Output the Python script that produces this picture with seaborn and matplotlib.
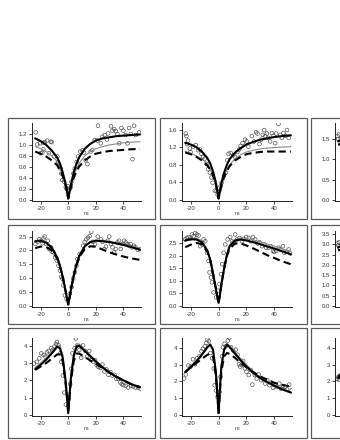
import matplotlib
matplotlib.use("Agg")
import matplotlib.pyplot as plt
import seaborn as sns
from matplotlib.patches import Rectangle

# ---------------- data ----------------
ns_grid = [-24, -20, -16, -12, -8, -6, -4, -2, -1, 0, 1, 2, 4, 6, 8, 12, 16, 20, 25, 30, 35, 40, 45, 52]

# panel row1 col1
p11_sx = [-23.6, -22.4, -20.5, -18, -16.9, -15.2, -12.7, -12, -20, -18.8, -18, -14, -10.3, -7.9, -7.4, -6.7,
          -5.5, -5, -4.3, -3, -1.8, -1.1, -0.1, 0.6, 1.8, 2.3, 3.7, 4.7, 6.1, 7.1, 8.6, 10.3, 11.5, 12.7, 13.9,
          16.3, 17.5, 19.2, 21.2, 21.6, 23.6, 24.8, 26.5, 28, 29, 31, 32, 33.3, 34.5, 35.7, 37, 38.6, 40, 41.7,
          43, 44.2, 45.4, 46.6, 47.8, 49, 51.4]
p11_sy = [1.23, 1.01, 1.03, 1.04, 1.05, 1.08, 1.06, 1.05, 0.85, 0.86, 0.92, 0.85, 0.79, 0.79, 0.69, 0.60,
          0.57, 0.48, 0.36, 0.33, 0.23, 0.20, 0.25, 0.18, 0.23, 0.33, 0.48, 0.57, 0.69, 0.79, 0.88, 0.90, 0.86,
          0.72, 0.65, 0.88, 0.91, 1.09, 1.08, 1.35, 1.03, 1.15, 1.18, 1.10, 1.21, 1.34, 1.26, 1.29, 1.25, 1.20,
          1.03, 1.31, 1.26, 1.18, 1.03, 1.31, 1.20, 0.74, 1.35, 1.18, 1.23]
p11_fit = [1.12, 1.07, 1.00, 0.90, 0.77, 0.66, 0.50, 0.30, 0.17, 0.02, 0.15, 0.28, 0.50, 0.66, 0.78, 0.93,
           1.02, 1.08, 1.12, 1.14, 1.16, 1.17, 1.18, 1.19]
p11_alt = [0.97, 0.93, 0.88, 0.80, 0.70, 0.60, 0.46, 0.28, 0.16, 0.03, 0.14, 0.26, 0.44, 0.57, 0.67, 0.80,
           0.88, 0.93, 0.97, 1.00, 1.02, 1.04, 1.05, 1.06]
p11_ref = [0.88, 0.84, 0.79, 0.72, 0.63, 0.55, 0.43, 0.27, 0.15, 0.03, 0.13, 0.24, 0.40, 0.52, 0.61, 0.72,
           0.79, 0.84, 0.87, 0.89, 0.90, 0.91, 0.92, 0.93]

# panel row1 col2
p12_sx = [-23.6, -23.1, -21.9, -22.7, -20.7, -20.2, -18.3, -16.4, -14.7, -13.5, -12.3, -11.1, -9.9, -8.7,
          -7.5, -6.3, -5.1, -4.3, -2.7, -1.4, -0.7, 0.5, 1.4, 2.2, 3.9, 5.3, 6.3, 7.2, 8.7, 10.6, 11.8, 13.5,
          14.9, 15.9, 17.3, 19, 20.2, 21.4, 23.9, 25.5, 27, 28, 29.4, 30.6, 31.8, 32.8, 33.5, 34.7, 35.9, 37.1,
          38.3, 39.5, 40.7, 41.4, 43.1, 44.3, 45.5, 46.7, 48, 49.2, 50.4]
p12_sy = [1.51, 1.45, 1.35, 1.27, 1.17, 1.09, 1.21, 1.25, 1.13, 1.15, 1.05, 0.98, 0.94, 0.82, 0.70, 0.62,
          0.51, 0.39, 0.21, 0.20, 0.12, 0.20, 0.31, 0.39, 0.55, 0.62, 0.90, 1.05, 1.07, 1.02, 0.98, 1.09, 1.15,
          1.23, 1.29, 1.37, 1.33, 1.21, 1.45, 1.33, 1.54, 1.51, 1.27, 1.37, 1.48, 1.59, 1.45, 1.51, 1.41, 1.33,
          1.52, 1.46, 1.29, 1.51, 1.73, 1.48, 1.41, 1.52, 1.46, 1.59, 1.41]
p12_fit = [1.30, 1.26, 1.20, 1.10, 0.95, 0.83, 0.65, 0.40, 0.22, 0.03, 0.20, 0.38, 0.62, 0.80, 0.93, 1.08,
           1.18, 1.26, 1.32, 1.37, 1.40, 1.43, 1.45, 1.47]
p12_alt = [1.10, 1.06, 1.00, 0.93, 0.82, 0.72, 0.57, 0.36, 0.20, 0.03, 0.18, 0.33, 0.54, 0.69, 0.80, 0.94,
           1.03, 1.09, 1.13, 1.16, 1.18, 1.19, 1.20, 1.21]
p12_ref = [1.08, 1.04, 0.98, 0.90, 0.78, 0.69, 0.55, 0.35, 0.20, 0.03, 0.18, 0.32, 0.52, 0.66, 0.77, 0.90,
           0.98, 1.04, 1.07, 1.09, 1.10, 1.10, 1.10, 1.10]

# panel row1 col3 (mostly outside the picture)
p13_sx = [-24.5, -24, -23.5, -23, -22, -21, -20, -17, -14, -10, -6, -3, 0, 3, 6, 10, 15, 20, 30, 40, 50]
p13_sy = [1.58, 1.50, 1.62, 1.44, 1.52, 1.40, 1.36, 1.30, 1.20, 1.05, 0.80, 0.45, 0.10, 0.48, 0.85, 1.10,
          1.30, 1.45, 1.55, 1.62, 1.66]
p13_fit = [1.46, 1.42, 1.36, 1.25, 1.08, 0.95, 0.75, 0.46, 0.26, 0.03, 0.24, 0.44, 0.72, 0.92, 1.06, 1.24,
           1.36, 1.44, 1.50, 1.54, 1.57, 1.59, 1.60, 1.62]
p13_alt = [1.36, 1.32, 1.26, 1.16, 1.01, 0.89, 0.70, 0.43, 0.24, 0.03, 0.22, 0.41, 0.67, 0.85, 0.98, 1.14,
           1.24, 1.30, 1.35, 1.38, 1.40, 1.41, 1.42, 1.43]
p13_ref = [1.38, 1.33, 1.26, 1.15, 0.99, 0.87, 0.68, 0.42, 0.23, 0.03, 0.21, 0.39, 0.63, 0.80, 0.92, 1.06,
           1.14, 1.19, 1.22, 1.24, 1.25, 1.25, 1.25, 1.25]

# panel row2 col1
p21_sx = [-23.8, -22.1, -21, -19.5, -17.9, -17.1, -18.6, -16, -14.8, -13.8, -12.4, -11.9, -10.7, -9.5, -8.3,
          -7.1, -6, -5.2, -4.3, -3.6, -2.4, -1.2, 1.2, 2.4, 3.6, 4.8, 6, 6.7, 8.3, 10.7, 11.9, 13.1, 14.3, 15.5,
          16.7, 17.9, 19.5, 21.4, 23.8, 25, 26.2, 27.4, 28.6, 29.8, 31, 32.1, 33.3, 34.5, 35.7, 36.9, 38.1,
          39.3, 40.5, 41.7, 42.9, 44, 45.2, 46.4, 47.6, 48.8, 50.5, 51.9]
p21_sy = [2.23, 2.31, 2.40, 2.35, 2.43, 2.50, 2.26, 2.23, 2.35, 2.05, 2.11, 1.95, 1.93, 1.75, 1.63, 1.45,
          1.27, 1.04, 0.98, 0.74, 0.38, 0.26, 0.44, 0.68, 0.98, 1.21, 1.45, 1.69, 1.87, 2.17, 2.31, 2.40, 2.46,
          2.52, 2.67, 2.31, 2.23, 2.50, 2.40, 2.31, 2.05, 2.14, 2.35, 2.50, 2.23, 2.11, 1.93, 2.05, 2.29, 2.35,
          2.05, 2.23, 2.35, 2.29, 2.23, 2.17, 2.23, 2.11, 2.17, 2.11, 2.02, 2.05]
p21_fit = [2.33, 2.35, 2.28, 2.10, 1.75, 1.45, 1.05, 0.55, 0.30, 0.05, 0.30, 0.60, 1.10, 1.50, 1.80, 2.15,
           2.30, 2.35, 2.33, 2.30, 2.25, 2.20, 2.13, 2.03]
p21_alt = [2.30, 2.33, 2.27, 2.10, 1.76, 1.47, 1.07, 0.56, 0.31, 0.05, 0.31, 0.62, 1.12, 1.52, 1.82, 2.17,
           2.32, 2.37, 2.36, 2.33, 2.28, 2.23, 2.16, 2.06]
p21_ref = [2.08, 2.14, 2.12, 2.00, 1.70, 1.42, 1.03, 0.55, 0.30, 0.05, 0.30, 0.60, 1.08, 1.45, 1.75, 2.05,
           2.15, 2.13, 2.03, 1.93, 1.85, 1.78, 1.72, 1.66]

# panel row2 col2
p22_sx = [-24, -22.8, -21.6, -20.4, -19.2, -18, -16.8, -15.6, -14.4, -13.2, -12, -10.8, -9.6, -8.4, -7.2,
          -6.5, -5.5, -4.8, -3.6, -1.7, -0.5, 0.7, 1.7, 2.6, 3.6, 4.8, 6.5, 8.4, 9.6, 10.8, 12, 13.2, 15.1,
          16.8, 18, 19.9, 21.6, 23.3, 24.7, 26.4, 28.1, 29.5, 31.2, 32.9, 34.3, 36, 37.6, 39.1, 40, 41.5, 43.2,
          44.4, 46.3, 47.2, 48.7, 50.4, 51.6]
p22_sy = [2.66, 2.72, 2.76, 2.69, 2.86, 2.79, 2.92, 2.86, 2.82, 2.39, 2.46, 2.66, 2.59, 2.13, 1.80, 1.34,
          1.14, 0.94, 0.54, 0.34, 0.61, 0.87, 1.27, 1.67, 2.13, 2.46, 2.66, 2.76, 2.59, 2.55, 2.86, 2.66, 2.72,
          2.59, 2.69, 2.76, 2.72, 2.59, 2.76, 2.66, 2.50, 2.55, 2.39, 2.46, 2.33, 2.33, 2.39, 2.20, 2.16, 2.20,
          2.33, 2.26, 2.39, 2.13, 2.16, 2.26, 2.10]
p22_fit = [2.62, 2.67, 2.66, 2.55, 2.20, 1.85, 1.30, 0.70, 0.40, 0.12, 0.45, 0.85, 1.50, 2.05, 2.40, 2.62,
           2.66, 2.62, 2.55, 2.47, 2.38, 2.30, 2.20, 2.07]
p22_alt = [2.60, 2.68, 2.72, 2.62, 2.25, 1.88, 1.32, 0.71, 0.40, 0.12, 0.46, 0.87, 1.53, 2.08, 2.44, 2.67,
           2.72, 2.70, 2.64, 2.57, 2.48, 2.40, 2.30, 2.18]
p22_ref = [2.35, 2.45, 2.52, 2.48, 2.15, 1.83, 1.30, 0.70, 0.40, 0.12, 0.45, 0.85, 1.50, 2.00, 2.30, 2.50,
           2.50, 2.42, 2.30, 2.17, 2.03, 1.92, 1.80, 1.67]

# panel row2 col3 (mostly outside the picture)
p23_sx = [-24.5, -24, -23.5, -23, -22, -21, -20, -17, -14, -10, -6, -3, 0, 3, 6, 10, 15, 20, 30, 40, 50]
p23_sy = [3.05, 2.95, 3.10, 2.80, 2.98, 2.90, 3.00, 3.05, 3.00, 2.80, 2.10, 1.00, 0.20, 1.10, 2.30, 2.90,
          3.10, 3.05, 2.90, 2.70, 2.50]
p23_fit = [2.85, 2.95, 3.00, 2.92, 2.55, 2.15, 1.50, 0.80, 0.45, 0.12, 0.50, 0.95, 1.70, 2.35, 2.75, 3.00,
           3.02, 2.97, 2.88, 2.78, 2.68, 2.58, 2.48, 2.35]
p23_alt = [2.80, 2.92, 2.98, 2.90, 2.53, 2.13, 1.49, 0.80, 0.45, 0.12, 0.50, 0.95, 1.70, 2.33, 2.73, 2.98,
           3.00, 2.95, 2.86, 2.76, 2.66, 2.56, 2.46, 2.33]
p23_ref = [2.70, 2.80, 2.85, 2.78, 2.45, 2.08, 1.47, 0.80, 0.45, 0.12, 0.50, 0.95, 1.65, 2.25, 2.60, 2.80,
           2.78, 2.70, 2.58, 2.45, 2.32, 2.20, 2.08, 1.95]

# panel row3 col1
p31_sx = [-25, -22.7, -21, -19.5, -17.8, -16.6, -15.4, -14.2, -12.3, -11.3, -9.9, -8.9, -8.2, -7, -5.8, -5.1,
          -3.9, -2.9, -1.7, 0.2, 1.4, 2.2, 3.1, 4.6, 5.5, 6.5, 8, 9.4, 10.8, 12.3, 13.7, 15.2, 16.6, 18.3, 19.5,
          20.7, 21.9, 23.4, 24.8, 26.3, 27.7, 29.2, 30.6, 32, 33.5, 34.9, 36.4, 37.8, 38.8, 40, 41.7, 43.6,
          45.5, 47.2, 48.9, 50.8, 52.5]
p31_sy = [2.97, 3.07, 3.27, 3.56, 3.47, 3.37, 3.62, 3.70, 3.86, 3.76, 3.96, 4.10, 4.22, 4.02, 3.56, 3.07,
          2.28, 1.29, 0.59, 0.89, 1.78, 2.67, 3.56, 3.86, 4.42, 4.02, 3.76, 3.31, 4.02, 3.70, 3.37, 3.70, 3.17,
          3.07, 3.17, 2.87, 2.77, 2.71, 2.91, 2.51, 2.63, 2.32, 2.48, 2.28, 2.32, 2.08, 2.08, 1.88, 1.78, 1.72,
          1.68, 1.58, 1.68, 1.64, 1.58, 1.58, 1.52]
p31_fit = [2.65, 2.90, 3.20, 3.55, 3.95, 3.85, 3.30, 2.00, 1.10, 0.10, 1.20, 2.20, 3.40, 3.95, 4.00, 3.70,
           3.40, 3.10, 2.75, 2.45, 2.20, 2.00, 1.80, 1.60]
p31_alt = [2.75, 3.00, 3.30, 3.65, 4.05, 4.00, 3.50, 2.20, 1.20, 0.10, 1.30, 2.40, 3.60, 4.05, 4.10, 3.80,
           3.45, 3.12, 2.77, 2.46, 2.21, 2.00, 1.81, 1.60]
p31_ref = [2.60, 2.80, 3.00, 3.25, 3.50, 3.50, 3.10, 1.90, 1.05, 0.10, 1.10, 2.00, 3.10, 3.55, 3.55, 3.35,
           3.15, 2.95, 2.70, 2.45, 2.20, 2.00, 1.80, 1.60]

# panel row3 col2
p32_sx = [-24.8, -23.6, -21.7, -20.1, -18.4, -17, -15.4, -13.7, -12.3, -11.3, -9.9, -8.7, -8, -7.1, -5.9,
          -4.7, -3.5, -2.8, -1.9, -0.7, 0.7, 1.4, 2.4, 3.1, 4.3, 5.2, 6.6, 7.6, 9, 10.6, 12.3, 13.7, 14.7, 15.6,
          16.5, 17.7, 18.9, 20.1, 21.7, 23.2, 24.3, 26, 27.4, 28.8, 30.7, 32.2, 33.6, 35, 36.6, 37.8, 39.2,
          40.7, 42.1, 43.7, 44.9, 46.3, 47.8, 49.2, 50.8, 52.5]
p32_sy = [2.17, 2.42, 2.95, 2.89, 3.33, 3.03, 3.39, 3.50, 3.80, 3.96, 4.10, 4.31, 4.51, 4.41, 3.70, 3.39,
          2.78, 1.77, 1.46, 1.06, 1.36, 2.28, 3.50, 4.04, 4.25, 4.10, 4.45, 4.61, 4.04, 3.84, 3.90, 3.60, 3.03,
          2.89, 2.99, 3.23, 2.78, 2.58, 2.38, 2.68, 1.81, 2.38, 2.17, 2.42, 2.07, 2.13, 1.87, 2.07, 1.77, 1.93,
          1.61, 1.81, 1.67, 1.87, 1.56, 1.73, 1.67, 1.52, 1.81, 1.46]
p32_fit = [2.55, 2.85, 3.20, 3.60, 4.05, 4.20, 3.90, 2.60, 1.40, 0.10, 1.60, 2.90, 3.90, 4.20, 4.05, 3.65,
           3.25, 2.90, 2.50, 2.20, 1.95, 1.75, 1.55, 1.33]
p32_alt = [2.60, 2.90, 3.25, 3.65, 4.10, 4.25, 3.95, 2.70, 1.50, 0.10, 1.70, 3.00, 4.00, 4.28, 4.15, 3.75,
           3.35, 3.00, 2.60, 2.28, 2.02, 1.80, 1.60, 1.38]
p32_ref = [2.55, 2.85, 3.10, 3.35, 3.60, 3.65, 3.50, 2.40, 1.30, 0.10, 1.40, 2.60, 3.50, 3.70, 3.65, 3.40,
           3.10, 2.85, 2.55, 2.30, 2.10, 1.92, 1.80, 1.70]

# panel row3 col3 (mostly outside the picture)
p33_sx = [-24.5, -24, -23.5, -23, -22, -21, -20, -17, -14, -10, -6, -3, 0, 3, 6, 10, 15, 20, 30, 40, 50]
p33_sy = [2.15, 2.25, 2.10, 2.35, 2.30, 2.50, 2.60, 3.00, 3.30, 3.80, 4.10, 2.50, 0.30, 2.80, 4.20, 3.80,
          3.30, 2.90, 2.30, 1.90, 1.50]
p33_fit = [2.20, 2.65, 3.05, 3.45, 3.95, 4.10, 3.80, 2.50, 1.35, 0.10, 1.50, 2.80, 3.85, 4.15, 4.00, 3.60,
           3.20, 2.85, 2.45, 2.15, 1.90, 1.70, 1.50, 1.30]
p33_alt = [2.25, 2.70, 3.10, 3.50, 4.00, 4.15, 3.85, 2.60, 1.45, 0.10, 1.60, 2.90, 3.95, 4.20, 4.05, 3.65,
           3.25, 2.90, 2.50, 2.20, 1.95, 1.74, 1.54, 1.33]
p33_ref = [2.25, 2.60, 2.95, 3.25, 3.55, 3.60, 3.45, 2.35, 1.25, 0.10, 1.35, 2.55, 3.45, 3.65, 3.60, 3.35,
           3.05, 2.80, 2.50, 2.25, 2.05, 1.88, 1.75, 1.62]

x_ticks = [-20, 0, 20, 40]
y_ticks = {
    (0, 0): [0.0, 0.2, 0.4, 0.6, 0.8, 1.0, 1.2],
    (0, 1): [0.0, 0.4, 0.8, 1.2, 1.6],
    (0, 2): [0.0, 0.5, 1.0, 1.5],
    (1, 0): [0.0, 0.5, 1.0, 1.5, 2.0, 2.5],
    (1, 1): [0.0, 0.5, 1.0, 1.5, 2.0, 2.5],
    (1, 2): [0.0, 0.5, 1.0, 1.5, 2.0, 2.5, 3.0, 3.5],
    (2, 0): [0, 1, 2, 3, 4],
    (2, 1): [0, 1, 2, 3, 4],
    (2, 2): [0, 1, 2, 3, 4],
}
y_top = {(0, 0): 1.40, (0, 1): 1.75, (0, 2): 1.90,
         (1, 0): 2.70, (1, 1): 3.00, (1, 2): 3.65,
         (2, 0): 4.45, (2, 1): 4.60, (2, 2): 4.60}

panels = {
    (0, 0): (p11_sx, p11_sy, p11_fit, p11_alt, p11_ref),
    (0, 1): (p12_sx, p12_sy, p12_fit, p12_alt, p12_ref),
    (0, 2): (p13_sx, p13_sy, p13_fit, p13_alt, p13_ref),
    (1, 0): (p21_sx, p21_sy, p21_fit, p21_alt, p21_ref),
    (1, 1): (p22_sx, p22_sy, p22_fit, p22_alt, p22_ref),
    (1, 2): (p23_sx, p23_sy, p23_fit, p23_alt, p23_ref),
    (2, 0): (p31_sx, p31_sy, p31_fit, p31_alt, p31_ref),
    (2, 1): (p32_sx, p32_sy, p32_fit, p32_alt, p32_ref),
    (2, 2): (p33_sx, p33_sy, p33_fit, p33_alt, p33_ref),
}

# ---------------- style ----------------
sns.set_style("white")
plt.rcParams['font.family'] = ['Liberation Sans', 'DejaVu Sans']

W, H = 340, 440
fig = plt.figure(figsize=(W / 100, H / 100), dpi=100)
fig.patch.set_facecolor("white")

box_cols = [(8, 155), (160, 307), (311, 458)]
box_rows = [(118, 219), (225, 324), (328, 438)]
ax_cols = [(32, 141), (182, 292), (335, 445)]
ax_rows = [(123, 201), (231, 307), (338, 416)]

def fx(px):
    return px / W

def fy(py):
    return 1 - py / H

for r in range(3):
    for c in range(3):
        bx0, bx1 = box_cols[c]
        by0, by1 = box_rows[r]
        fig.add_artist(Rectangle((fx(bx0), fy(by1)), fx(bx1 - bx0), (by1 - by0) / H,
                                 transform=fig.transFigure, fill=False,
                                 edgecolor="#5a5a5a", linewidth=0.9))
        ax0, ax1 = ax_cols[c]
        ay0, ay1 = ax_rows[r]
        ax = fig.add_axes([fx(ax0), fy(ay1), fx(ax1 - ax0), (ay1 - ay0) / H])
        ax.set_facecolor("none")
        sx, sy, fit, alt, ref = panels[(r, c)]
        sns.scatterplot(x=sx, y=sy, ax=ax, marker="o", s=7, facecolors="none",
                        edgecolor="#444444", linewidth=0.45, zorder=2)
        sns.lineplot(x=ns_grid, y=alt, ax=ax, color="#8a8a8a", linewidth=0.8, zorder=3)
        sns.lineplot(x=ns_grid, y=ref, ax=ax, color="black", linewidth=1.5,
                     linestyle=(0, (3.5, 2.0)), zorder=4)
        sns.lineplot(x=ns_grid, y=fit, ax=ax, color="black", linewidth=1.5, zorder=5)
        top = y_top[(r, c)]
        ax.set_xlim(-26.3, 52.8)
        ax.set_ylim(-0.015 * top, top)
        ax.set_xticks(x_ticks)
        yt = y_ticks[(r, c)]
        ax.set_yticks(yt)
        if r == 2:
            ax.set_yticklabels([f"{v:d}" for v in yt])
        else:
            ax.set_yticklabels([f"{v:.1f}" for v in yt])
        ax.set_xticklabels([str(v) for v in x_ticks])
        for side in ("top", "right"):
            ax.spines[side].set_visible(False)
        for side in ("left", "bottom"):
            ax.spines[side].set_color("#222222")
            ax.spines[side].set_linewidth(0.7)
        ax.tick_params(axis="both", direction="out", length=2.2, width=0.6, pad=1.2,
                       labelsize=4.3, colors="#222222", labelcolor="#333333",
                       left=True, bottom=True)
        ax.set_xlabel("ns", fontsize=3.8, color="#333333", labelpad=0.5)
        ax.set_ylabel("")

fig.savefig("out.png", dpi=100, facecolor="white")
